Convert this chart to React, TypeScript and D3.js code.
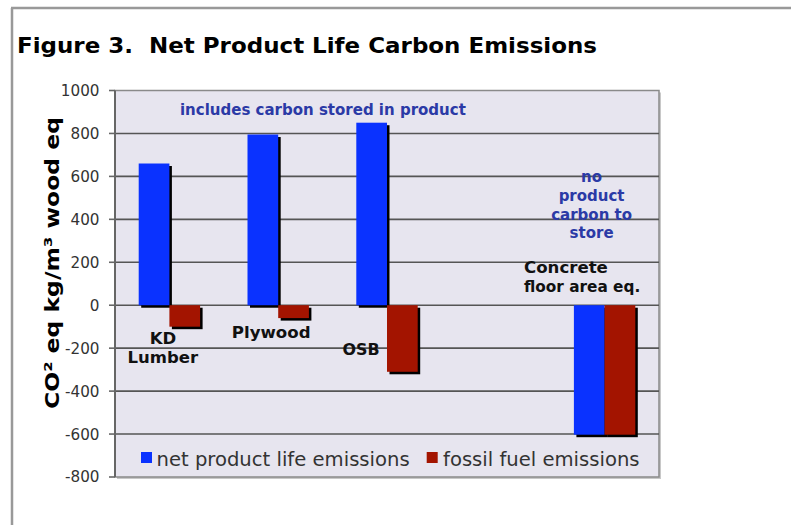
import React from "react";
import * as d3 from "d3";

const categories = ["KD Lumber", "Plywood", "OSB", "gap", "Concrete"];
const series = ["net product life emissions", "fossil fuel emissions"];
const netValues: (number | null)[] = [660, 795, 850, null, -603];
const fossilValues: (number | null)[] = [-100, -60, -310, null, -603];
const yTicks = [1000, 800, 600, 400, 200, 0, -200, -400, -600, -800];
const titleText = "Figure 3.  Net Product Life Carbon Emissions";
const yLabel = "CO\u00B2 eq kg/m\u00B3 wood eq";
const noteTop = "includes carbon stored in product";
const noteRight = ["no", "product", "carbon to", "store"];

const W = 791;
const H = 525;
const plot = { left: 115, right: 659, top: 90.5, bottom: 477 };
const BLUE = "#0a32ff";
const RED = "#a31400";
const NOTE = "#2b3aa6";
const FONT = "'DejaVu Sans', Verdana, sans-serif";

export default function App() {
  const y = d3.scaleLinear().domain([-800, 1000]).range([plot.bottom, plot.top]);
  const x = d3.scaleBand<string>().domain(categories).range([plot.left, plot.right]).padding(0);
  const x1 = d3
    .scaleBand<string>()
    .domain(series)
    .range([0, x.bandwidth()])
    .paddingInner(0)
    .paddingOuter(0.772);
  const colors = [BLUE, RED];
  const valueSets = [netValues, fossilValues];

  const bars: { key: string; x: number; y: number; w: number; h: number; c: string }[] = [];
  categories.forEach((cat, i) => {
    series.forEach((s, j) => {
      const v = valueSets[j][i];
      if (v == null) return;
      const y0 = y(0);
      const yv = y(v);
      bars.push({
        key: cat + s,
        x: (x(cat) ?? 0) + (x1(s) ?? 0),
        y: Math.min(y0, yv),
        w: x1.bandwidth(),
        h: Math.abs(yv - y0),
        c: colors[j],
      });
    });
  });

  const cx = (c: string) => (x(c) ?? 0) + x.bandwidth() / 2;
  const catStyle = { fontFamily: FONT, fontWeight: 700, fill: "#111" } as const;

  return (
    <svg
      width={W}
      height={H}
      style={{ position: "absolute", left: 0, top: 0, background: "#fff" }}
    >
      {/* outer frame */}
      <line x1={11} y1={8} x2={W} y2={8} stroke="#999" strokeWidth={2.5} />
      <line x1={12} y1={8} x2={12} y2={H} stroke="#999" strokeWidth={2.5} />

      <text
        x={17}
        y={53.3}
        fontFamily={FONT}
        fontWeight={700}
        fontSize={22}
        fill="#000"
        textLength={580}
        lengthAdjust="spacingAndGlyphs"
        style={{ whiteSpace: "pre" }}
      >
        {titleText}
      </text>

      {/* plot background */}
      <rect x={plot.left + 2} y={plot.top + 2} width={plot.right - plot.left} height={plot.bottom - plot.top} fill="#c8c8c8" />
      <rect x={plot.left} y={plot.top} width={plot.right - plot.left} height={plot.bottom - plot.top} fill="#e7e5ef" stroke="#8a8a8a" strokeWidth={1.5} />

      {/* grid lines */}
      {yTicks
        .filter((t) => t !== 1000 && t !== -800)
        .map((t) => (
          <line key={t} x1={plot.left} x2={plot.right} y1={y(t)} y2={y(t)} stroke="#555" strokeWidth={1.6} />
        ))}

      {/* y axis */}
      <line x1={plot.left} x2={plot.left} y1={plot.top} y2={plot.bottom} stroke="#666" strokeWidth={2} />
      {yTicks.map((t) => (
        <g key={t}>
          <line x1={109} x2={plot.left} y1={y(t)} y2={y(t)} stroke="#666" strokeWidth={1.6} />
          <text
            x={99.5}
            y={y(t)}
            dy="0.36em"
            textAnchor="end"
            fontFamily={FONT}
            fontSize={15.2}
            fill="#333"
          >
            {t}
          </text>
        </g>
      ))}

      <text
        transform={`translate(58.5, 263) rotate(-90)`}
        textAnchor="middle"
        fontFamily={FONT}
        fontWeight={700}
        fontSize={20}
        fill="#000"
        textLength={292}
        lengthAdjust="spacingAndGlyphs"
      >
        {yLabel}
      </text>

      {/* bar shadows */}
      {bars.map((b) => (
        <rect key={"s" + b.key} x={b.x + 2.5} y={b.y + 2.5} width={b.w} height={b.h} fill="#000" />
      ))}
      {bars.map((b) => (
        <rect key={b.key} x={b.x} y={b.y} width={b.w} height={b.h} fill={b.c} />
      ))}

      {/* annotations */}
      <text x={322.9} y={115} textAnchor="middle" fontFamily={FONT} fontWeight={700} fontSize={15} fill={NOTE}>
        {noteTop}
      </text>
      {noteRight.map((l, i) => (
        <text
          key={l}
          x={cx("Concrete") - 13}
          y={181.7 + i * 18.9}
          textAnchor="middle"
          fontFamily={FONT}
          fontWeight={700}
          fontSize={15}
          fill={NOTE}
        >
          {l}
        </text>
      ))}
      <text x={524} y={272.7} {...catStyle} fontSize={16.6}>
        Concrete
      </text>
      <text x={524} y={291.7} {...catStyle} fontSize={15.3}>
        floor area eq.
      </text>
      <text x={cx("KD Lumber") - 6.5} y={344} textAnchor="middle" {...catStyle} fontSize={16.5}>
        KD
      </text>
      <text x={cx("KD Lumber") - 6.5} y={363} textAnchor="middle" {...catStyle} fontSize={16.5}>
        Lumber
      </text>
      <text x={cx("Plywood") - 7} y={338.3} textAnchor="middle" {...catStyle} fontSize={16.6}>
        Plywood
      </text>
      <text x={cx("OSB") - 26} y={355} textAnchor="middle" {...catStyle} fontSize={15.9}>
        OSB
      </text>

      {/* legend */}
      <rect x={141} y={452} width={11} height={11} fill={BLUE} />
      <text x={156.5} y={465.7} fontFamily={FONT} fontSize={19.6} fill="#333">
        {series[0]}
      </text>
      <rect x={426.7} y={452} width={11} height={11} fill={RED} />
      <text x={443} y={465.7} fontFamily={FONT} fontSize={19.6} fill="#333">
        {series[1]}
      </text>
    </svg>
  );
}
